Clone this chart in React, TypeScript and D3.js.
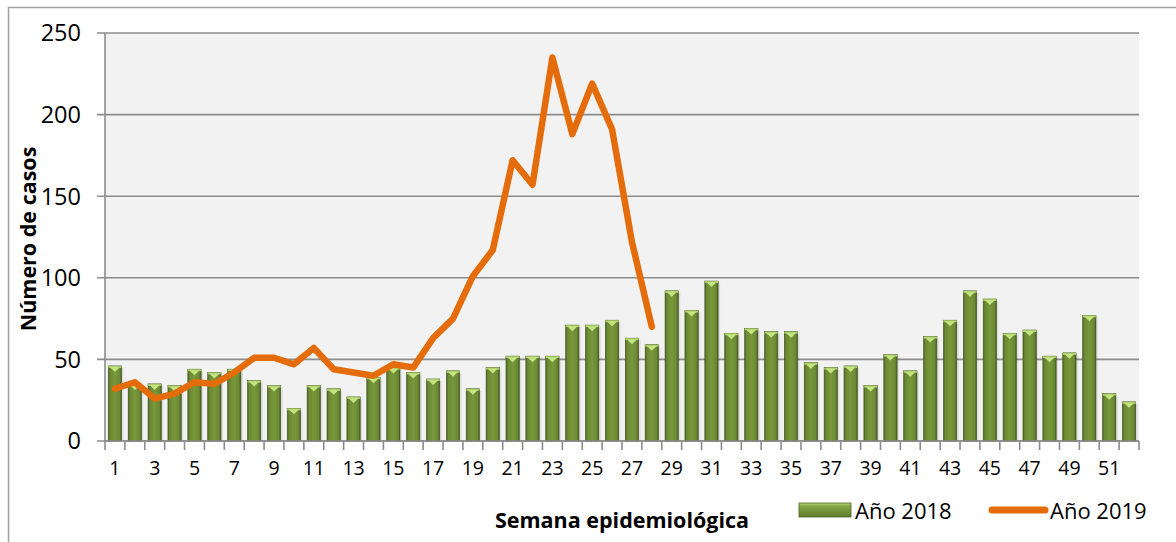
import React from "react";
import * as d3 from "d3";

// semanas epidemiológicas 1..52
const weeks = d3.range(1, 53);
// casos año 2018 (barras)
const cases2018 = [
  46, 35, 35, 34, 44, 42, 44, 37, 34, 20, 34, 32, 27, 39, 45, 42, 38, 43, 32,
  45, 52, 52, 52, 71, 71, 74, 63, 59, 92, 80, 98, 66, 69, 67, 67, 48, 45, 46,
  34, 53, 43, 64, 74, 92, 87, 66, 68, 52, 54, 77, 29, 24,
];
// casos año 2019 (línea, hasta semana 28)
const cases2019 = [
  32, 36, 26, 29, 36, 35, 42, 51, 51, 47, 57, 44, 42, 40, 47, 45, 63, 75, 101,
  117, 172, 157, 235, 188, 219, 191, 122, 70,
];
const yTicks = [0, 50, 100, 150, 200, 250];
const xLabels = weeks.filter((w) => w % 2 === 1);

const W = 1176;
const H = 542;
const margin = { left: 105, top: 33, right: 1139, bottom: 441 };
const font = "'Open Sans', sans-serif";

export default function App() {
  const x = d3
    .scaleBand<number>()
    .domain(weeks)
    .range([margin.left, margin.right])
    .paddingInner(0.33)
    .paddingOuter(0.165);
  const y = d3.scaleLinear().domain([0, 250]).range([margin.bottom, margin.top]);
  const bw = x.bandwidth();
  const step = x.step();

  const line = d3
    .line<number>()
    .x((d, i) => (x(weeks[i]) as number) + bw / 2)
    .y((d) => y(d));

  return (
    <svg
      width={W}
      height={H}
      style={{ position: "absolute", left: 0, top: 0, background: "#fff" }}
    >
      <defs>
        <linearGradient id="barGrad" x1="0" x2="1" y1="0" y2="0">
          <stop offset="0" stopColor="#4f6625" />
          <stop offset="0.15" stopColor="#6c8934" />
          <stop offset="0.5" stopColor="#78983b" />
          <stop offset="0.85" stopColor="#6c8934" />
          <stop offset="1" stopColor="#465c20" />
        </linearGradient>
        <linearGradient id="legGrad" x1="0" x2="0" y1="0" y2="1">
          <stop offset="0" stopColor="#b8d97a" />
          <stop offset="0.25" stopColor="#85a444" />
          <stop offset="1" stopColor="#5e7a2b" />
        </linearGradient>
      </defs>

      {/* borde exterior */}
      <rect x={8.5} y={7.5} width={W + 20} height={H + 20} fill="none" stroke="#a0a0a0" strokeWidth={1.5} />

      {/* área de trazado */}
      <rect
        x={margin.left}
        y={margin.top}
        width={margin.right - margin.left}
        height={margin.bottom - margin.top}
        fill="#f2f2f2"
      />

      {/* líneas de cuadrícula y eje Y */}
      {yTicks.map((t) => (
        <g key={t}>
          <line x1={97} x2={margin.right} y1={y(t)} y2={y(t)} stroke="#8c8c8c" strokeWidth={1.6} />
          <text
            x={81}
            y={y(t)}
            dy="0.36em"
            textAnchor="end"
            fontFamily={font}
            fontSize={23.5}
            fill="#000"
          >
            {t}
          </text>
        </g>
      ))}
      <line x1={margin.left} x2={margin.left} y1={margin.top} y2={margin.bottom} stroke="#8c8c8c" strokeWidth={1.6} />

      {/* barras 2018 */}
      {cases2018.map((v, i) => {
        const bx = x(weeks[i]) as number;
        const top = y(v);
        return (
          <g key={i}>
            <rect x={bx + 2} y={top + 2} width={bw} height={margin.bottom - top - 2} fill="#000" opacity={0.08} />
            <rect x={bx} y={top} width={bw} height={margin.bottom - top} fill="url(#barGrad)" stroke="#3f531c" strokeWidth={0.6} />
            <rect x={bx} y={top} width={bw} height={2} fill="#a9c96a" />
            <polygon
              points={`${bx + 1.5},${top + 1} ${bx + bw - 1.5},${top + 1} ${bx + bw / 2},${top + 6}`}
              fill="#c3e47f"
            />
          </g>
        );
      })}

      {/* eje X */}
      <line x1={margin.left} x2={margin.right} y1={margin.bottom} y2={margin.bottom} stroke="#8c8c8c" strokeWidth={1.6} />
      {d3.range(weeks.length + 1).map((k) => (
        <line
          key={k}
          x1={margin.left + k * step}
          x2={margin.left + k * step}
          y1={margin.bottom}
          y2={margin.bottom + 9}
          stroke="#8c8c8c"
          strokeWidth={1.6}
        />
      ))}
      {xLabels.map((w) => (
        <text
          key={w}
          x={(x(w) as number) + bw / 2}
          y={475}
          textAnchor="middle"
          fontFamily={font}
          fontSize={19.5}
          fill="#000"
        >
          {w}
        </text>
      ))}

      {/* línea 2019 */}
      <path
        d={line(cases2019) || ""}
        fill="none"
        stroke="#e46c0a"
        strokeWidth={6.5}
        strokeLinejoin="round"
        strokeLinecap="round"
      />

      {/* títulos de ejes */}
      <text
        transform={`translate(36,${(margin.top + margin.bottom) / 2 + 2}) rotate(-90)`}
        textAnchor="middle"
        fontFamily={font}
        fontWeight="bold"
        fontSize={21.5}
        fill="#000"
      >
        Número de casos
      </text>
      <text
        x={622}
        y={528}
        textAnchor="middle"
        fontFamily={font}
        fontWeight="bold"
        fontSize={21.5}
        fill="#000"
      >
        Semana epidemiológica
      </text>

      {/* leyenda */}
      <rect x={799} y={503} width={52} height={14} fill="url(#legGrad)" stroke="#4d6424" strokeWidth={0.8} />
      <text x={855} y={519} fontFamily={font} fontSize={22} fill="#000">
        Año 2018
      </text>
      <line x1={992} x2={1045} y1={510} y2={510} stroke="#e46c0a" strokeWidth={7} strokeLinecap="round" />
      <text x={1050} y={519} fontFamily={font} fontSize={22} fill="#000">
        Año 2019
      </text>
    </svg>
  );
}
